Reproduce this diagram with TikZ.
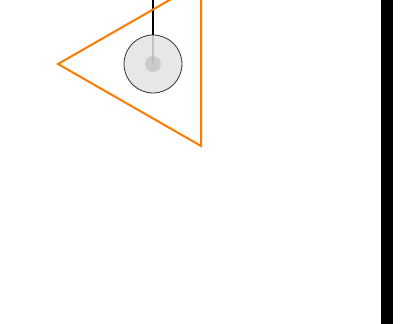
\documentclass[tikz,border=0pt]{standalone}
\usepackage{tikz}
\usetikzlibrary{positioning}
\tikzset{
  trig/.style = {draw=orange!95!red, line width=1.5pt, line join=miter},
  bob/.style  = {circle, minimum size=43.5pt, inner sep=0pt, draw=black!80, line width=0.6pt,
                 fill=gray!22, fill opacity=0.85},
  core/.style = {circle, minimum size=12pt, inner sep=0pt, fill=gray!55, fill opacity=0.6},
  rope/.style = {draw=black, line width=0.9pt},
  wall/.style = {fill=black}
}
\begin{document}
\begin{tikzpicture}[x=0.75pt, y=-0.75pt]
  \useasboundingbox (0,0) rectangle (415,324);
  % pendulum
  \coordinate (pivot) at (153,-20);
  \coordinate (centre) at (153,64);
  \draw [rope] (pivot) -- (centre);
  \node (ball) [bob] at (centre) {};
  \node (mass) [core] at (ball.center) {};
  % orange triangle
  \draw [trig] (58,64) -- (201,-18) -- (201,146) -- cycle;
  % wall
  \fill [wall] (381,-5) rectangle (393,330);
\end{tikzpicture}
\end{document}
